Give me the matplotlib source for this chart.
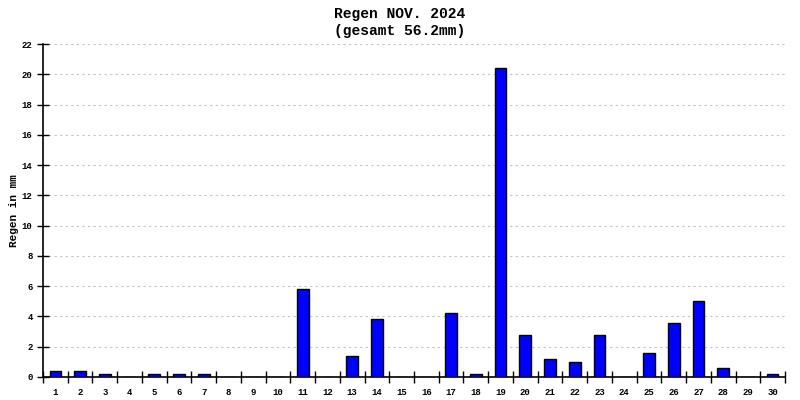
import matplotlib
matplotlib.use('Agg')
import matplotlib.pyplot as plt
import numpy as np

days = [str(d) for d in range(1, 31)]
rain = [0.4, 0.4, 0.2, 0, 0.2, 0.2, 0.2, 0, 0, 0,
        5.8, 0, 1.4, 3.8, 0, 0, 4.2, 0.2, 20.4, 2.8,
        1.2, 1.0, 2.8, 0, 1.6, 3.6, 5.0, 0.6, 0, 0.2]
yticks = list(range(0, 23, 2))

plt.rcParams['font.family'] = ['Liberation Mono', 'DejaVu Sans Mono']

fig = plt.figure(figsize=(8, 4), dpi=100)
ax = fig.add_axes([43 / 800, 23 / 400, 742 / 800, 333 / 400])

x = np.arange(len(days))
ax.bar(x, rain, width=0.47, color='#0000ff', edgecolor='black', linewidth=1, zorder=3)

ax.set_xlim(-0.5, len(days) - 0.5)
ax.set_ylim(0, 22)
ax.set_yticks(yticks)
ax.set_yticklabels([str(t) for t in yticks], fontsize=6.5, fontweight='bold')
ax.set_xticks(x)
ax.set_xticklabels(days, fontsize=6.5, fontweight='bold')
ax.tick_params(axis='x', length=0, pad=8)
ax.set_xticks(np.arange(len(days) + 1) - 0.5, minor=True)
ax.tick_params(axis='x', which='minor', direction='inout', length=9, width=1)
ax.tick_params(axis='y', direction='inout', length=9, width=1, pad=3)

ax.grid(axis='y', color='#c4c4c4', linestyle=(0, (2, 3)), linewidth=0.8, zorder=0)
ax.spines['top'].set_visible(False)
ax.spines['right'].set_visible(False)
ax.spines['left'].set_linewidth(1.2)
ax.spines['bottom'].set_linewidth(1.2)

ax.set_ylabel('Regen in mm', fontsize=8, fontweight='bold', labelpad=2)
fig.text(0.5, 1 - 14 / 400, 'Regen NOV. 2024', ha='center', va='center',
         fontsize=10.5, fontweight='bold')
fig.text(0.5, 1 - 31 / 400, '(gesamt 56.2mm)', ha='center', va='center',
         fontsize=10.5, fontweight='bold')

fig.savefig('out.png', dpi=100)
